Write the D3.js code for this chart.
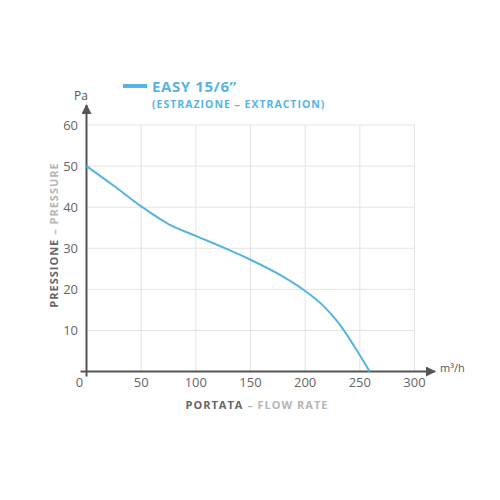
<!DOCTYPE html>
<html>
<head>
<meta charset="utf-8">
<script src="https://cdn.jsdelivr.net/npm/d3@7"></script>
<style>
  body { margin: 0; background: #fff; }
  svg text { font-family: "Open Sans", Lato, sans-serif; }
</style>
</head>
<body>
<div id="chart"></div>
<script>
'use strict';

// flow rate (m3/h) vs pressure (Pa)
var flowRate = [0, 25, 50, 75, 100, 125, 150, 175, 200, 215, 230, 245, 259];
var pressure = [50, 45.2, 40.2, 35.9, 33, 30.2, 27.2, 23.8, 19.6, 16.4, 12, 6.1, 0];
var xTicks = [0, 50, 100, 150, 200, 250, 300];
var yTicks = [10, 20, 30, 40, 50, 60];

var blue = '#56b4e3';

var svg = d3.select('#chart').append('svg')
	.attr('width', 500)
	.attr('height', 500);

var x = d3.scaleLinear().domain([0, 300]).range([86.5, 414.5]);
var y = d3.scaleLinear().domain([0, 60]).range([371.5, 125]);

// grid
svg.append('g').selectAll('line.v')
	.data(xTicks.filter(function(d) { return d > 0; }))
	.enter().append('line')
	.attr('x1', d => x(d)).attr('x2', d => x(d))
	.attr('y1', y(60)).attr('y2', y(0))
	.attr('stroke', '#e3e3e3').attr('stroke-width', 1);

svg.append('g').selectAll('line.h')
	.data(yTicks)
	.enter().append('line')
	.attr('x1', x(0)).attr('x2', x(300))
	.attr('y1', d => y(d)).attr('y2', d => y(d))
	.attr('stroke', '#e3e3e3').attr('stroke-width', 1);

// axes with arrows
var defs = svg.append('defs');
defs.append('marker')
	.attr('id', 'arrow')
	.attr('viewBox', '0 0 10 10')
	.attr('refX', 9).attr('refY', 5)
	.attr('markerWidth', 5).attr('markerHeight', 5)
	.attr('orient', 'auto')
	.append('path')
	.attr('d', 'M0,0 L10,5 L0,10 z')
	.attr('fill', '#555');

svg.append('line')
	.attr('x1', x(0)).attr('x2', x(0))
	.attr('y1', y(0) + 5).attr('y2', 105)
	.attr('stroke', '#555').attr('stroke-width', 2)
	.attr('marker-end', 'url(#arrow)');

svg.append('line')
	.attr('x1', x(0) - 6).attr('x2', 435)
	.attr('y1', y(0)).attr('y2', y(0))
	.attr('stroke', '#555').attr('stroke-width', 2)
	.attr('marker-end', 'url(#arrow)');

// tick labels
svg.append('g').selectAll('text')
	.data(xTicks)
	.enter().append('text')
	.attr('x', d => d == 0 ? x(d) - 7 : x(d))
	.attr('y', 387)
	.attr('text-anchor', 'middle')
	.attr('font-size', 13)
	.attr('fill', '#666')
	.text(d => d);

svg.append('g').selectAll('text')
	.data(yTicks)
	.enter().append('text')
	.attr('x', 78)
	.attr('y', d => y(d) + 5)
	.attr('text-anchor', 'end')
	.attr('font-size', 13)
	.attr('fill', '#666')
	.text(d => d);

// units
svg.append('text')
	.attr('x', 81).attr('y', 100)
	.attr('text-anchor', 'middle')
	.attr('font-size', 12)
	.attr('fill', '#555')
	.text('Pa');

svg.append('text')
	.attr('x', 440).attr('y', 372)
	.attr('font-size', 11)
	.attr('fill', '#555')
	.text('m³/h');

// axis titles
var xt = svg.append('text')
	.attr('x', 257).attr('y', 409)
	.attr('text-anchor', 'middle')
	.attr('font-size', 11)
	.attr('font-weight', 'bold')
	.attr('letter-spacing', 1);
xt.append('tspan').attr('fill', '#666').text('PORTATA');
xt.append('tspan').attr('fill', '#b5b5b5').text(' – FLOW RATE');

var yt = svg.append('text')
	.attr('transform', 'translate(58,235) rotate(-90)')
	.attr('text-anchor', 'middle')
	.attr('font-size', 11)
	.attr('font-weight', 'bold')
	.attr('letter-spacing', 1);
yt.append('tspan').attr('fill', '#666').text('PRESSIONE');
yt.append('tspan').attr('fill', '#b5b5b5').text(' – PRESSURE');

// legend
svg.append('line')
	.attr('x1', 123).attr('x2', 147)
	.attr('y1', 86).attr('y2', 86)
	.attr('stroke', blue).attr('stroke-width', 4);

svg.append('text')
	.attr('x', 152).attr('y', 92)
	.attr('font-size', 15)
	.attr('font-weight', 'bold')
	.attr('letter-spacing', 0.6)
	.attr('fill', blue)
	.text('EASY 15/6”');

svg.append('text')
	.attr('x', 152).attr('y', 108)
	.attr('font-size', 10.5)
	.attr('font-weight', 'bold')
	.attr('letter-spacing', 1)
	.attr('fill', blue)
	.text('(ESTRAZIONE – EXTRACTION)');

// curve
var line = d3.line()
	.x((d, i) => x(flowRate[i]))
	.y(d => y(d))
	.curve(d3.curveCatmullRom.alpha(0.5));

svg.append('path')
	.datum(pressure)
	.attr('d', line)
	.attr('fill', 'none')
	.attr('stroke', blue)
	.attr('stroke-width', 2);
</script>
</body>
</html>
